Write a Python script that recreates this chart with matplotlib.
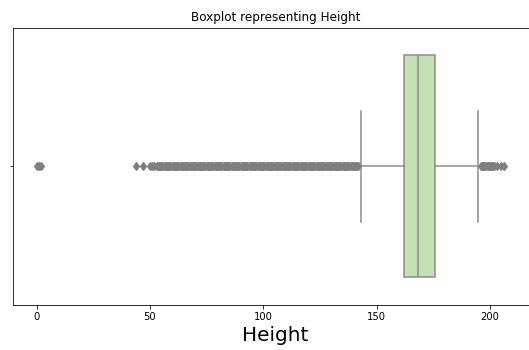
import matplotlib
matplotlib.use('Agg')
import matplotlib.pyplot as plt

# box statistics
q1 = 162.0
median = 168.4
q3 = 175.8
whisker_low = 143.0
whisker_high = 194.6

# outliers (values below / above the whiskers)
outliers_low = [0, 1, 2, 44, 47,
                50, 51, 52, 53, 53.5, 54, 54.5, 55, 55.5, 56, 56.5, 57, 57.5,
                58, 58.5, 59, 59.5, 60, 60.5, 61, 61.5, 62, 62.5, 63, 63.5,
                64, 64.5, 65, 65.5, 66, 66.5, 67, 67.5, 68, 68.5, 69, 69.5,
                70, 70.5, 71, 71.5, 72, 72.5, 73, 73.5, 74, 74.5, 75, 75.5,
                76, 76.5, 77, 77.5, 78, 78.5, 79, 79.5, 80, 80.5, 81, 81.5,
                82, 82.5, 83, 83.5, 84, 84.5, 85, 85.5, 86, 86.5, 87, 87.5,
                88, 88.5, 89, 89.5, 90, 90.5, 91, 91.5, 92, 92.5, 93, 93.5,
                94, 94.5, 95, 95.5, 96, 96.5, 97, 97.5, 98, 98.5, 99, 99.5,
                100, 100.5, 101, 101.5, 102, 102.5, 103, 103.5, 104, 104.5,
                105, 105.5, 106, 106.5, 107, 107.5, 108, 108.5, 109, 109.5,
                110, 110.5, 111, 111.5, 112, 112.5, 113, 113.5, 114, 114.5,
                115, 115.5, 116, 116.5, 117, 117.5, 118, 118.5, 119, 119.5,
                120, 120.5, 121, 121.5, 122, 122.5, 123, 123.5, 124, 124.5,
                125, 125.5, 126, 126.5, 127, 127.5, 128, 128.5, 129, 129.5,
                130, 130.5, 131, 131.5, 132, 132.5, 133, 133.5, 134, 134.5,
                135, 135.5, 136, 136.5, 137, 137.5, 138, 138.5, 139, 139.5,
                140, 140.5, 141, 141.5, 142]
outliers_high = [196, 196.5, 197, 197.5, 198, 198.5, 199, 199.5, 200, 200.5,
                 201, 201.5, 202, 203, 205, 206]

stats = [{
    'q1': q1, 'med': median, 'q3': q3,
    'whislo': whisker_low, 'whishi': whisker_high,
    'fliers': outliers_low + outliers_high,
}]

fig = plt.figure(figsize=(529 / 72, 350 / 72), dpi=72)
ax = fig.add_axes([13 / 529, 45 / 350, 525 / 529, 277.5 / 350])

line_gray = '#8a8a8a'
ax.bxp(stats, vert=False, positions=[0], widths=0.8, patch_artist=True,
       boxprops=dict(facecolor='#c5e0b4', edgecolor=line_gray, linewidth=1.5),
       medianprops=dict(color=line_gray, linewidth=1.5),
       whiskerprops=dict(color=line_gray, linewidth=1.5),
       capprops=dict(color=line_gray, linewidth=1.5),
       flierprops=dict(marker='d', markersize=6, markeredgewidth=1.2,
                       markerfacecolor='#7f7f7f', markeredgecolor='#7f7f7f',
                       linestyle='none'))

ax.set_xlim(-10.4, 221.2)
ax.set_ylim(0.5, -0.5)
ax.set_yticks([0])
ax.set_yticklabels([''])
ax.set_xticks([0, 50, 100, 150, 200])
ax.tick_params(labelsize=10)
ax.set_title('Boxplot representing Height', fontsize=12)
ax.set_xlabel('Height', fontsize=20)

fig.savefig('out.png', dpi=72)
